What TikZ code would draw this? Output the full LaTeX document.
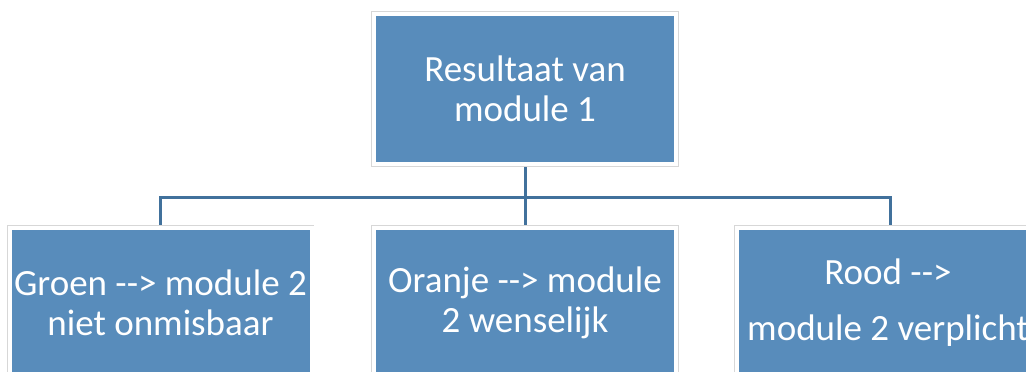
\documentclass[tikz,border=0pt]{standalone}
\usepackage{fontspec}
\setmainfont{Carlito}[Ligatures=TeXOff]
\usetikzlibrary{backgrounds}
\definecolor{boxblue}{RGB}{88,140,187}
\definecolor{linkblue}{RGB}{65,113,156}
\definecolor{framegray}{RGB}{215,215,215}
\begin{document}
\begin{tikzpicture}[x=1pt,y=-1pt,
  orgbox/.style={rectangle, fill=boxblue, draw=white, line width=4pt,
    preaction={draw=framegray, line width=5.5pt},
    minimum width=302pt, minimum height=150pt, inner sep=0pt,
    text=white, align=center, font=\fontsize{37}{40}\selectfont},
  link/.style={draw=linkblue, line width=3pt}]
\useasboundingbox (0,0) rectangle (1026,372);
\clip (0,0) rectangle (1026,372);
\node[orgbox] (top) at (525,89) {Resultaat van\\module 1};
\node[orgbox] (groen) at (160.5,303) {Groen --> module 2\\niet onmisbaar};
\node[orgbox] (oranje) at (525,303) {Oranje --> module\\2 wenselijk};
\node[orgbox] (rood) at (888,303) {Rood -->\\[16pt]module 2 verplicht};
\coordinate (bar) at (525,197);
\begin{scope}[on background layer]
\fill[white] (0,0) rectangle (1026,372);
\draw[link] (top.south) -- (bar) -- ([yshift=-2pt]oranje.north);
\draw[link] (bar) -| ([yshift=-2pt]groen.north);
\draw[link] (bar) -| ([xshift=2pt,yshift=-2pt]rood.north);
\end{scope}
\end{tikzpicture}
\end{document}
